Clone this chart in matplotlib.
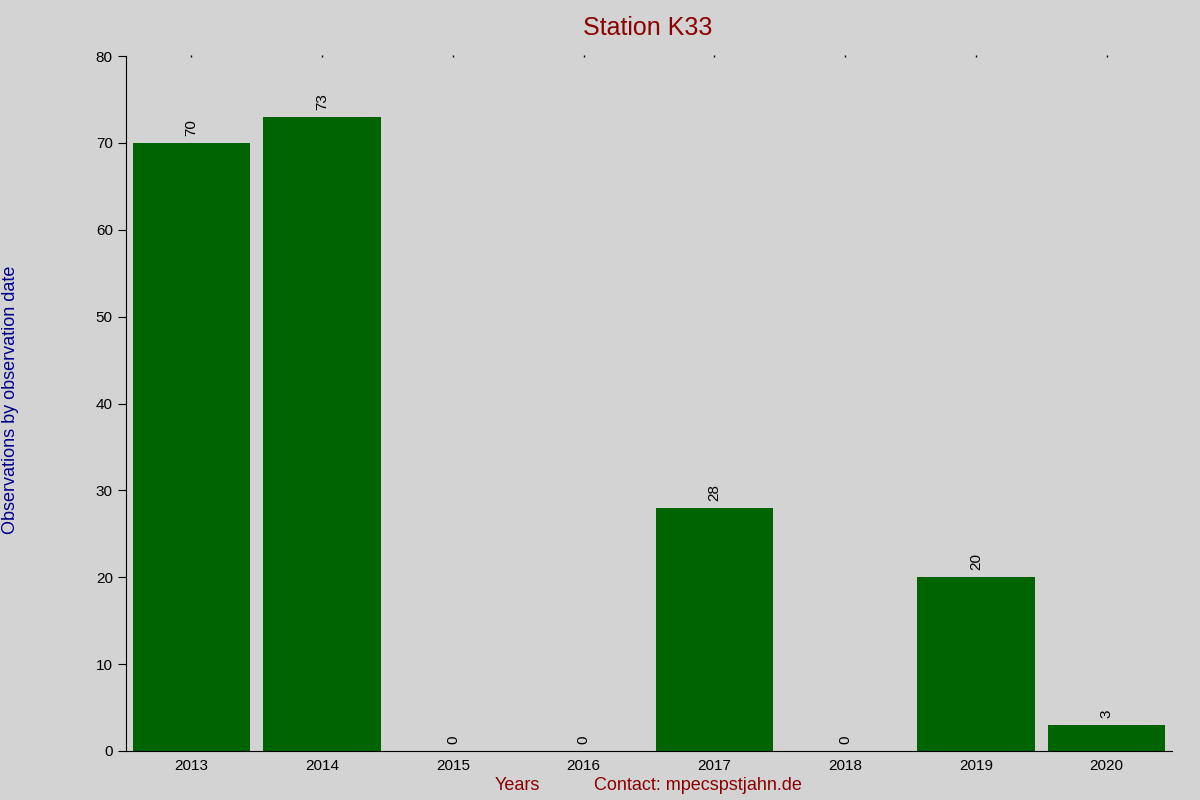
import matplotlib
matplotlib.use("Agg")
import matplotlib.pyplot as plt

years = ["2013","2014","2015","2016","2017","2018","2019","2020"]
counts = [70,73,0,0,28,0,20,3]

bg = "#d3d3d3"
fig = plt.figure(figsize=(12,8), dpi=100, facecolor=bg)
ax = fig.add_axes([126/1200, 1-751/800, (1172-126)/1200, (751-56)/800], facecolor=bg)
x = list(range(len(years)))
ax.bar(x, counts, width=0.9, color="#006400")
for xi, v in zip(x, counts):
    ax.text(xi, v+0.8, str(v), rotation=90, ha="center", va="bottom", fontsize=11, family="Liberation Sans")
ax.set_xlim(-0.5, 7.5)
ax.set_ylim(0, 80)
ax.set_xticks(x)
ax.set_xticklabels(years, family="Liberation Sans", fontsize=11)
ax.set_yticks(range(0, 81, 10))
ax.set_yticklabels([str(v) for v in range(0, 81, 10)], family="Liberation Sans", fontsize=11)
ax.tick_params(axis="x", length=0, pad=6)
ax.tick_params(axis="y", direction="out", length=6)
for s in ["top","right"]:
    ax.spines[s].set_visible(False)
for xi in x:
    ax.plot(xi, 80, marker="|", markersize=2, color="black", clip_on=False)
fig.text(0.54, 0.98, "Station K33", ha="center", va="top", color="#8b0000", fontsize=18, family="Liberation Sans")
fig.text(0.009, 0.5, "Observations by observation date", rotation=90, ha="center", va="center", color="#00008b", fontsize=13, family="Liberation Sans")
fig.text(517/1200, 1-786/800, "Years", ha="center", va="center", color="#8b0000", fontsize=13, family="Liberation Sans")
fig.text(698/1200, 1-786/800, "Contact: mpecspstjahn.de", ha="center", va="center", color="#8b0000", fontsize=13, family="Liberation Sans")
fig.savefig("out.png", dpi=100, facecolor=bg)
